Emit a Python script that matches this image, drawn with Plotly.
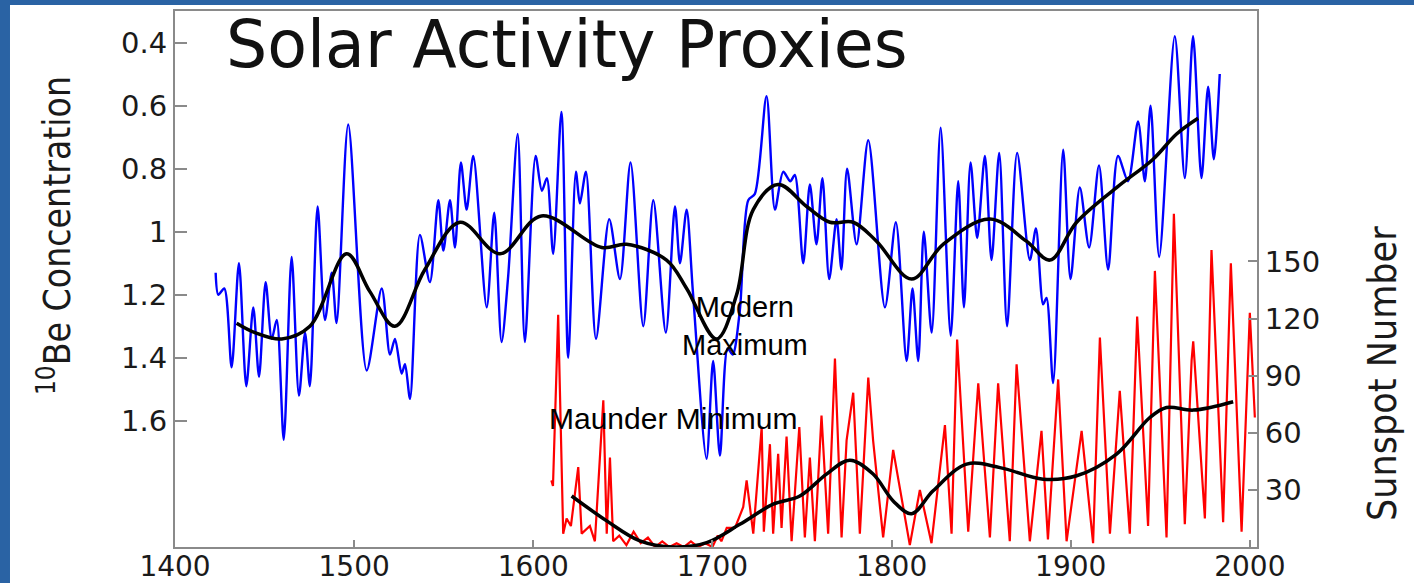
import plotly.graph_objects as go

# ---------------- data ----------------
# 10Be concentration (left axis, reversed)
be_years = [1422.7, 1424.2, 1427.5, 1431.6, 1435.7, 1439.8, 1443.7, 1446.9, 1450.6, 1454.0,
            1456.8, 1460.7, 1465.1, 1469.2, 1472.6, 1475.3, 1479.6, 1483.7, 1487.5, 1490.2,
            1496.7, 1507.0, 1515.4, 1520.0, 1522.8, 1526.5, 1528.4, 1531.2, 1536.7, 1542.3,
            1547.0, 1549.8, 1553.5, 1556.3, 1559.6, 1562.8, 1566.5, 1574.0, 1578.2, 1582.3,
            1586.0, 1591.3, 1595.3, 1601.3, 1604.8, 1607.6, 1611.1, 1615.7, 1619.5, 1623.8,
            1626.0, 1629.4, 1635.0, 1642.4, 1648.4, 1654.3, 1661.4, 1667.0, 1674.0, 1679.1,
            1681.9, 1685.6, 1689.1, 1696.7, 1700.4, 1704.2, 1708.5, 1711.3, 1715.3, 1720.0,
            1723.7, 1730.2, 1734.9, 1739.5, 1743.5, 1746.0, 1750.7, 1754.4, 1758.1, 1761.4,
            1765.2, 1769.3, 1772.0, 1775.2, 1780.5, 1787.0, 1796.3, 1802.4, 1808.4, 1811.7,
            1814.9, 1818.0, 1822.4, 1827.4, 1833.0, 1837.2, 1840.4, 1844.1, 1847.8, 1852.1,
            1855.8, 1860.1, 1864.5, 1870.1, 1877.2, 1880.6, 1884.6, 1886.5, 1890.2, 1895.8,
            1899.9, 1905.1, 1910.3, 1915.8, 1920.9, 1926.4, 1932.0, 1937.6, 1941.4, 1944.6,
            1949.4, 1958.1, 1963.7, 1968.3, 1973.0, 1976.7, 1979.9, 1983.2]
be_values = [1.13, 1.20, 1.18, 1.43, 1.10, 1.49, 1.24, 1.46, 1.16, 1.34,
             1.28, 1.66, 1.08, 1.52, 1.32, 1.49, 0.92, 1.28, 1.13, 1.29,
             0.66, 1.44, 1.18, 1.39, 1.34, 1.45, 1.42, 1.53, 1.01, 1.16,
             0.90, 1.06, 0.90, 1.05, 0.78, 0.93, 0.76, 1.24, 0.94, 1.35,
             1.14, 0.69, 1.35, 0.76, 0.87, 0.83, 1.07, 0.62, 1.40, 0.81,
             0.91, 0.81, 1.34, 0.96, 1.15, 0.78, 1.30, 0.90, 1.32, 0.92,
             1.10, 0.93, 1.19, 1.72, 1.41, 1.71, 1.37, 1.39, 1.25, 0.90,
             0.88, 0.57, 0.93, 0.81, 0.84, 0.82, 1.10, 0.85, 1.04, 0.83,
             1.15, 0.96, 1.12, 0.80, 1.04, 0.71, 1.24, 0.97, 1.41, 1.18,
             1.41, 1.00, 1.32, 0.67, 1.33, 0.84, 1.24, 0.78, 1.02, 0.76,
             1.09, 0.75, 1.30, 0.75, 1.09, 0.99, 1.23, 1.21, 1.48, 0.74,
             1.15, 0.86, 1.05, 0.79, 1.12, 0.76, 0.84, 0.65, 0.84, 0.60,
             1.08, 0.38, 0.83, 0.38, 0.83, 0.54, 0.77, 0.50]

# smoothed 10Be
be_smooth_years = [1434.4, 1444.7, 1459.6, 1475.3, 1495.8, 1508.8, 1522.8, 1539.5, 1559.1, 1581.4,
                   1604.5, 1638.2, 1652.1, 1674.4, 1685.6, 1702.3, 1713.5, 1722.8, 1736.7, 1752.6,
                   1765.6, 1778.6, 1791.6, 1811.2, 1828.8, 1854.9, 1875.3, 1888.4, 1903.3, 1925.6,
                   1946.0, 1959.1, 1971.1]
be_smooth_values = [1.29, 1.32, 1.34, 1.30, 1.07, 1.19, 1.30, 1.12, 0.97, 1.07,
                    0.95, 1.05, 1.04, 1.09, 1.18, 1.34, 1.20, 0.93, 0.85, 0.92,
                    0.97, 0.97, 1.03, 1.15, 1.04, 0.96, 1.03, 1.09, 0.97, 0.86,
                    0.77, 0.69, 0.64]

# sunspot number (right axis)
ss_years = [1610.1, 1611.0, 1613.9, 1616.7, 1618.6, 1621.0, 1625.1, 1627.0, 1631.6, 1634.4,
            1639.1, 1641.0, 1642.8, 1644.6, 1648.0, 1652.0, 1656.0, 1660.0, 1664.0, 1668.0,
            1672.0, 1676.0, 1680.0, 1684.0, 1688.0, 1692.0, 1696.0, 1700.0, 1703.0, 1705.0,
            1708.0, 1712.6, 1717.2, 1719.1, 1722.8, 1727.5, 1728.7, 1732.1, 1733.9, 1736.7,
            1738.6, 1741.4, 1744.2, 1748.5, 1751.6, 1754.4, 1757.2, 1760.9, 1764.6, 1768.4,
            1772.1, 1774.9, 1778.6, 1782.3, 1787.0, 1789.7, 1795.3, 1800.9, 1810.2, 1815.8,
            1822.3, 1829.8, 1833.5, 1836.6, 1842.8, 1848.4, 1854.9, 1859.5, 1866.0, 1869.8,
            1877.2, 1883.7, 1887.3, 1893.0, 1897.7, 1906.1, 1912.5, 1916.3, 1921.9, 1927.4,
            1933.0, 1937.1, 1943.2, 1947.0, 1953.5, 1957.6, 1963.7, 1967.5, 1968.4, 1974.9,
            1978.6, 1985.1, 1989.4, 1995.4, 2000.0, 2002.8]
ss_values = [35, 32, 122, 7, 15, 11, 42, 7, 11, 3,
             77, 7, 47, 3, 6, 1, 8, 2, 5, 0,
             3, 0, 2, 0, 3, 0, 2, 0, 6, 3,
             10, 10, 21, 35, 7, 63, 8, 54, 7, 49,
             10, 58, 3, 63, 5, 47, 3, 69, 7, 99,
             5, 56, 81, 7, 89, 56, 5, 51, 1, 30,
             2, 64, 7, 109, 8, 86, 5, 86, 3, 96,
             3, 61, 4, 88, 3, 61, 2, 110, 7, 82,
             7, 121, 11, 145, 5, 175, 12, 98, 108, 15,
             156, 13, 149, 8, 123, 68]

# smoothed sunspot number
ss_smooth_years = [1621.4, 1641.0, 1659.5, 1678.1, 1696.8, 1715.3, 1733.9, 1748.8, 1763.7, 1776.7,
                   1789.7, 1800.9, 1811.2, 1823.2, 1841.9, 1860.5, 1884.6, 1903.3, 1925.6, 1944.2,
                   1953.5, 1968.4, 1990.7]
ss_smooth_values = [26.8, 13.7, 3.2, 0.0, 2.3, 11.9, 22.5, 26.8, 38.3, 45.6,
                    38.3, 24.2, 17.5, 29.5, 43.5, 41.7, 35.6, 37.4, 48.8, 68.0,
                    73.3, 71.9, 76.3]

x_ticks = [1400, 1500, 1600, 1700, 1800, 1900, 2000]
be_ticks = [0.4, 0.6, 0.8, 1.0, 1.2, 1.4, 1.6]
be_tick_labels = ["0.4", "0.6", "0.8", "1", "1.2", "1.4", "1.6"]
ss_ticks = [30, 60, 90, 120, 150]

# ---------------- figure ----------------
AX = "#8a8a8a"
TICKFONT = dict(family="DejaVu Sans, Liberation Sans, Arial", size=29, color="#1a1a1a")
XTICKFONT = dict(family="DejaVu Sans, Liberation Sans, Arial", size=28, color="#1a1a1a")

fig = go.Figure()
fig.add_trace(go.Scatter(x=be_years, y=be_values, mode="lines", yaxis="y",
                         line=dict(color="#0000ff", width=2.4, shape="spline", smoothing=0.8),
                         hoverinfo="skip"))
fig.add_trace(go.Scatter(x=ss_years, y=ss_values, mode="lines", yaxis="y2",
                         line=dict(color="#ff0000", width=2.2),
                         hoverinfo="skip"))
fig.add_trace(go.Scatter(x=be_smooth_years, y=be_smooth_values, mode="lines", yaxis="y",
                         line=dict(color="#000000", width=3.5, shape="spline", smoothing=1.0),
                         hoverinfo="skip"))
fig.add_trace(go.Scatter(x=ss_smooth_years, y=ss_smooth_values, mode="lines", yaxis="y2",
                         line=dict(color="#000000", width=3.5, shape="spline", smoothing=1.0),
                         hoverinfo="skip"))

BLUE_FRAME = "#2a63a4"
shapes = [
    dict(type="rect", xref="paper", yref="paper", x0=-0.17, x1=-0.1525, y0=-0.07, y1=1.03,
         fillcolor=BLUE_FRAME, line=dict(width=0), layer="below"),
    dict(type="rect", xref="paper", yref="paper", x0=-0.17, x1=1.15, y0=1.0112, y1=1.03,
         fillcolor=BLUE_FRAME, line=dict(width=0), layer="below"),
]

annotations = [
    dict(text="Solar Activity Proxies", xref="paper", yref="paper", x=0.045, y=0.938,
         xanchor="left", yanchor="middle", showarrow=False,
         font=dict(family="DejaVu Sans, Open Sans", size=65, color="#111111")),
    dict(text="Modern<br>Maximum", xref="paper", yref="paper", x=0.5268, y=0.412,
         xanchor="center", yanchor="middle", showarrow=False,
         font=dict(family="Liberation Sans, Arial", size=29, color="#000000")),
    dict(text="Maunder Minimum", xref="paper", yref="paper", x=0.4605, y=0.239,
         xanchor="center", yanchor="middle", showarrow=False,
         font=dict(family="Liberation Sans, Arial", size=30, color="#000000")),
    dict(text="<sup>10</sup>Be Concentration", xref="paper", yref="paper", x=-0.111, y=0.582,
         xanchor="center", yanchor="middle", showarrow=False, textangle=-90,
         font=dict(family="DejaVu Sans Condensed, DejaVu Sans, Arial", size=37,
                   color="#1a1a1a")),
    dict(text="Sunspot Number", xref="paper", yref="paper", x=1.1165, y=0.3228,
         xanchor="center", yanchor="middle", showarrow=False, textangle=-90,
         font=dict(family="DejaVu Sans Condensed, DejaVu Sans, Arial", size=39,
                   color="#1a1a1a")),
]

fig.update_layout(
    width=1414, height=583, autosize=False,
    margin=dict(l=175, r=157, t=11, b=36, pad=0, autoexpand=False),
    paper_bgcolor="white", plot_bgcolor="white",
    showlegend=False,
    shapes=shapes, annotations=annotations,
    xaxis=dict(range=[1400, 2004], tickvals=x_ticks, ticks="inside", ticklen=7,
               tickcolor=AX, tickwidth=2, showline=True, linecolor=AX, linewidth=2,
               mirror=True, showgrid=False, zeroline=False, tickfont=XTICKFONT,
               automargin=False, ticklabelstandoff=-7),
    yaxis=dict(range=[2.0, 0.3], tickvals=be_ticks, ticktext=be_tick_labels,
               ticks="inside", ticklen=12, tickcolor=AX, tickwidth=2,
               showline=True, linecolor=AX, linewidth=2,
               showgrid=False, zeroline=False, tickfont=TICKFONT, automargin=False),
    yaxis2=dict(range=[0, 281.5], tickvals=ss_ticks, overlaying="y", side="right",
                ticks="inside", ticklen=9, tickcolor=AX, tickwidth=2,
                showline=True, linecolor=AX, linewidth=2,
                showgrid=False, zeroline=False, tickfont=TICKFONT, automargin=False),
)

fig.write_html(
    "out.html",
    config={"displayModeBar": False, "staticPlot": True},
    post_script="document.documentElement.style.margin='0';"
                "document.body.style.margin='0';"
                "document.body.style.overflow='hidden';",
)
